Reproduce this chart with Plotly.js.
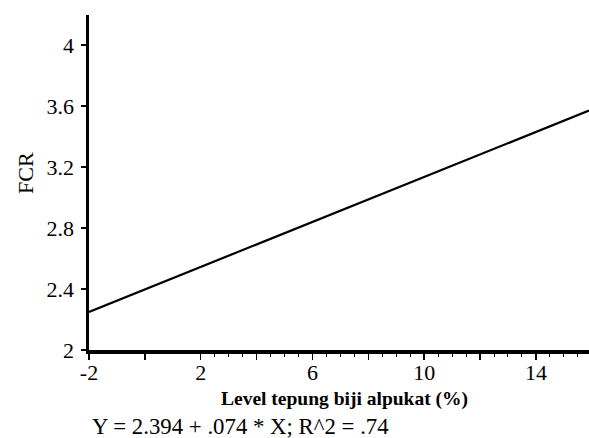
<!DOCTYPE html>
<html>
<head>
<meta charset="utf-8">
<script src="https://cdn.plot.ly/plotly-3.0.1.min.js"></script>
<style>html,body{margin:0;padding:0;background:#fff;}#chart{width:589px;height:438px;}</style>
</head>
<body>
<div id="chart"></div>
<script>
// Regression line endpoints
var lineX = [-2, 15.9];
var lineY = [2.25, 3.57];

var xTickVals = [-2, 0, 2, 4, 6, 8, 10, 12, 14];
var xTickText = ['-2', '', '2', '', '6', '', '10', '', '14'];
var xMinorVals = [2.5, 3, 3.5, 4.5, 5, 5.5, 6.5, 7, 7.5, 8.5, 9, 9.5, 10.5, 11, 11.5, 12.5, 13, 13.5, 14.5, 15, 15.5];
var yTickVals = [2, 2.4, 2.8, 3.2, 3.6, 4];
var yTickText = ['2', '2.4', '2.8', '3.2', '3.6', '4'];

var xTitle = 'Level tepung biji alpukat (%)';
var yTitle = 'FCR';
var equation = 'Y = 2.394 + .074 * X; R^2 = .74';

var serif = 'Liberation Serif, Times New Roman, serif';

var trace = {
  x: lineX, y: lineY, type: 'scatter', mode: 'lines',
  line: {color: '#000', width: 2.2},
  hoverinfo: 'skip', showlegend: false, cliponaxis: false
};

var layout = {
  width: 589, height: 438,
  margin: {l: 89, r: 0, t: 15, b: 88, pad: 0},
  paper_bgcolor: '#fff', plot_bgcolor: '#fff',
  font: {family: serif, size: 22, color: '#000'},
  xaxis: {
    range: [-2, 15.9], showgrid: false, zeroline: false,
    showline: true, linecolor: '#000', linewidth: 3.5,
    tickmode: 'array', tickvals: xTickVals, ticktext: xTickText,
    ticks: 'outside', ticklen: 6, tickwidth: 1.5, tickcolor: '#000',
    ticklabelstandoff: -6,
    tickfont: {family: serif, size: 22, color: '#000'},
    minor: {tickmode: 'array', tickvals: xMinorVals, ticks: 'outside', ticklen: 3, tickwidth: 1, tickcolor: '#000', showgrid: false},
    fixedrange: true
  },
  yaxis: {
    range: [2, 4.197], showgrid: false, zeroline: false,
    showline: true, linecolor: '#000', linewidth: 3.5,
    tickmode: 'array', tickvals: yTickVals, ticktext: yTickText,
    ticks: 'outside', ticklen: 5, tickwidth: 1.5, tickcolor: '#000',
    ticklabelstandoff: 2,
    tickfont: {family: serif, size: 22, color: '#000'},
    fixedrange: true
  },
  annotations: [
    {text: '<b>' + xTitle + '</b>', xref: 'paper', yref: 'paper', x: (344 - 89) / 500, y: -(399 - 350) / 335,
     xanchor: 'center', yanchor: 'middle', showarrow: false, font: {family: serif, size: 19.5, color: '#000'}},
    {text: equation, xref: 'paper', yref: 'paper', x: (90 - 89) / 500, y: -(426 - 350) / 335,
     xanchor: 'left', yanchor: 'middle', showarrow: false, font: {family: serif, size: 22.8, color: '#000'}},
    {text: yTitle, xref: 'paper', yref: 'paper', x: (25 - 89) / 500, y: (350 - 173) / 335,
     xanchor: 'center', yanchor: 'middle', textangle: -90, showarrow: false, font: {family: serif, size: 22, color: '#000'}}
  ]
};

Plotly.newPlot('chart', [trace], layout, {displayModeBar: false, staticPlot: true});
</script>
</body>
</html>
